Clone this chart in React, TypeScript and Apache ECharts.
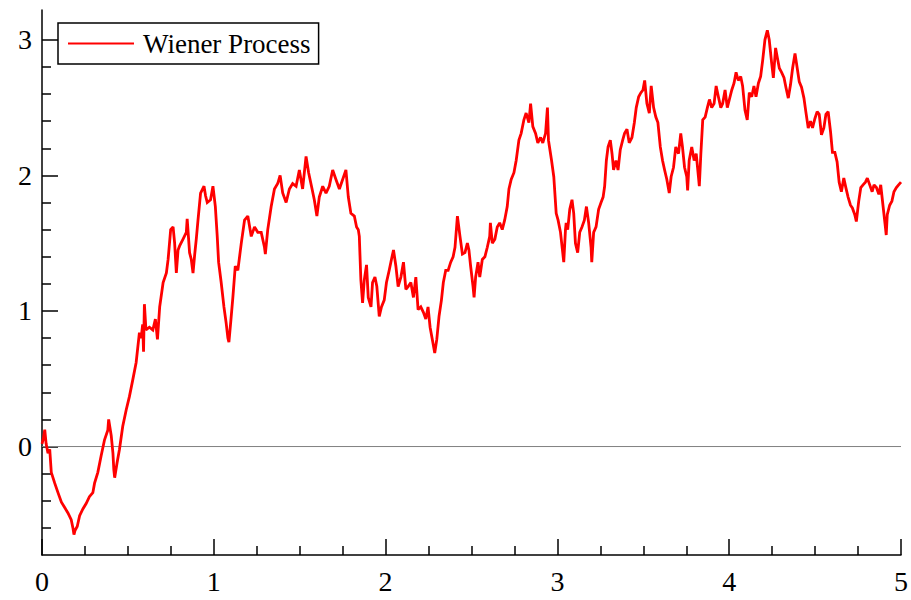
import React, { useEffect, useRef } from "react";
import * as echarts from "echarts";

const seriesName = "Wiener Process";

const tValues: number[] = [
  0.000, 0.008, 0.016, 0.024, 0.035, 0.045, 0.054, 0.074, 0.093, 0.113,
  0.132, 0.151, 0.170, 0.180, 0.186, 0.192, 0.205, 0.219, 0.238, 0.257,
  0.276, 0.296, 0.306, 0.325, 0.344, 0.364, 0.383, 0.388, 0.403, 0.413,
  0.418, 0.423, 0.437, 0.451, 0.470, 0.490, 0.509, 0.528, 0.548, 0.567,
  0.577, 0.586, 0.591, 0.596, 0.605, 0.625, 0.645, 0.660, 0.672, 0.685,
  0.705, 0.724, 0.734, 0.749, 0.763, 0.772, 0.782, 0.792, 0.801, 0.821,
  0.840, 0.845, 0.859, 0.869, 0.879, 0.889, 0.898, 0.908, 0.923, 0.943,
  0.952, 0.962, 0.981, 0.995, 1.009, 1.020, 1.028, 1.043, 1.059, 1.072,
  1.082, 1.088, 1.098, 1.111, 1.125, 1.140, 1.160, 1.179, 1.198, 1.218,
  1.237, 1.256, 1.276, 1.295, 1.300, 1.314, 1.334, 1.353, 1.372, 1.386,
  1.401, 1.421, 1.440, 1.459, 1.479, 1.498, 1.517, 1.537, 1.552, 1.572,
  1.585, 1.600, 1.614, 1.634, 1.653, 1.672, 1.692, 1.711, 1.731, 1.750,
  1.769, 1.783, 1.798, 1.818, 1.831, 1.841, 1.847, 1.856, 1.866, 1.876,
  1.889, 1.899, 1.915, 1.924, 1.938, 1.949, 1.963, 1.976, 1.992, 2.005,
  2.021, 2.034, 2.046, 2.060, 2.073, 2.089, 2.104, 2.118, 2.131, 2.147,
  2.162, 2.176, 2.189, 2.205, 2.220, 2.234, 2.247, 2.259, 2.272, 2.286,
  2.298, 2.311, 2.325, 2.336, 2.350, 2.364, 2.379, 2.393, 2.404, 2.418,
  2.433, 2.447, 2.462, 2.476, 2.485, 2.495, 2.509, 2.515, 2.524, 2.538,
  2.548, 2.563, 2.578, 2.592, 2.606, 2.610, 2.621, 2.636, 2.650, 2.664,
  2.679, 2.693, 2.708, 2.718, 2.731, 2.747, 2.760, 2.776, 2.789, 2.805,
  2.818, 2.834, 2.844, 2.857, 2.873, 2.886, 2.902, 2.915, 2.931, 2.942,
  2.948, 2.954, 2.966, 2.979, 2.993, 3.004, 3.018, 3.031, 3.037, 3.047,
  3.051, 3.060, 3.072, 3.085, 3.095, 3.105, 3.118, 3.130, 3.143, 3.157,
  3.169, 3.182, 3.196, 3.200, 3.211, 3.225, 3.240, 3.254, 3.266, 3.275,
  3.285, 3.295, 3.308, 3.318, 3.327, 3.341, 3.353, 3.366, 3.380, 3.391,
  3.405, 3.418, 3.434, 3.448, 3.459, 3.473, 3.486, 3.498, 3.508, 3.521,
  3.535, 3.546, 3.560, 3.573, 3.585, 3.599, 3.612, 3.624, 3.637, 3.651,
  3.662, 3.676, 3.689, 3.705, 3.718, 3.728, 3.740, 3.753, 3.758, 3.767,
  3.782, 3.796, 3.808, 3.821, 3.826, 3.835, 3.846, 3.860, 3.873, 3.885,
  3.898, 3.912, 3.924, 3.937, 3.951, 3.962, 3.976, 3.989, 4.001, 4.015,
  4.028, 4.040, 4.053, 4.067, 4.078, 4.092, 4.105, 4.117, 4.131, 4.144,
  4.156, 4.170, 4.183, 4.195, 4.208, 4.222, 4.233, 4.247, 4.257, 4.270,
  4.280, 4.292, 4.305, 4.319, 4.330, 4.344, 4.357, 4.369, 4.383, 4.396,
  4.408, 4.421, 4.435, 4.446, 4.460, 4.473, 4.485, 4.499, 4.512, 4.524,
  4.537, 4.551, 4.563, 4.576, 4.590, 4.601, 4.615, 4.628, 4.640, 4.653,
  4.667, 4.679, 4.692, 4.706, 4.717, 4.731, 4.740, 4.754, 4.766, 4.779,
  4.793, 4.804, 4.818, 4.832, 4.843, 4.857, 4.871, 4.882, 4.895, 4.909,
  4.914, 4.920, 4.934, 4.947, 4.959, 4.973, 4.986, 5.000,
];

const wValues: number[] = [
  0.02, 0.06, 0.125, 0.02, -0.05, -0.02, -0.19, -0.27, -0.34, -0.41,
  -0.45, -0.49, -0.54, -0.60, -0.65, -0.62, -0.59, -0.51, -0.46, -0.42,
  -0.37, -0.34, -0.27, -0.19, -0.07, 0.05, 0.12, 0.20, 0.08, -0.05,
  -0.17, -0.23, -0.12, -0.02, 0.15, 0.27, 0.37, 0.49, 0.62, 0.84,
  0.80, 0.90, 0.70, 1.05, 0.86, 0.88, 0.86, 0.94, 0.79, 1.03,
  1.21, 1.28, 1.38, 1.60, 1.62, 1.50, 1.28, 1.45, 1.48, 1.53,
  1.58, 1.68, 1.43, 1.38, 1.28, 1.42, 1.53, 1.67, 1.87, 1.92,
  1.85, 1.80, 1.82, 1.92, 1.77, 1.55, 1.36, 1.21, 1.03, 0.91,
  0.80, 0.77, 0.91, 1.10, 1.33, 1.30, 1.50, 1.67, 1.70, 1.55,
  1.62, 1.58, 1.58, 1.47, 1.42, 1.60, 1.77, 1.90, 1.94, 2.00,
  1.87, 1.80, 1.90, 1.94, 1.92, 2.04, 1.90, 2.14, 2.02, 1.90,
  1.82, 1.70, 1.84, 1.92, 1.87, 1.92, 2.04, 1.97, 1.90, 1.97,
  2.04, 1.84, 1.72, 1.70, 1.62, 1.60, 1.55, 1.23, 1.06, 1.23,
  1.34, 1.10, 1.03, 1.21, 1.25, 1.18, 0.96, 1.03, 1.08, 1.21,
  1.30, 1.38, 1.45, 1.33, 1.18, 1.25, 1.36, 1.16, 1.18, 1.21,
  1.10, 1.25, 1.01, 1.03, 0.99, 0.94, 1.03, 0.88, 0.79, 0.69,
  0.79, 0.96, 1.08, 1.21, 1.30, 1.30, 1.36, 1.40, 1.47, 1.70,
  1.55, 1.42, 1.43, 1.50, 1.45, 1.33, 1.18, 1.10, 1.25, 1.36,
  1.25, 1.38, 1.40, 1.47, 1.55, 1.65, 1.50, 1.53, 1.62, 1.65,
  1.60, 1.67, 1.77, 1.90, 1.97, 2.02, 2.11, 2.26, 2.31, 2.41,
  2.46, 2.39, 2.53, 2.36, 2.31, 2.24, 2.28, 2.24, 2.31, 2.50,
  2.26, 2.21, 2.11, 1.99, 1.72, 1.67, 1.58, 1.43, 1.36, 1.60,
  1.65, 1.60, 1.75, 1.82, 1.72, 1.50, 1.43, 1.58, 1.62, 1.67,
  1.77, 1.65, 1.47, 1.36, 1.58, 1.62, 1.75, 1.80, 1.84, 1.92,
  2.11, 2.21, 2.26, 2.16, 2.04, 2.11, 2.04, 2.19, 2.26, 2.31,
  2.34, 2.24, 2.28, 2.39, 2.50, 2.58, 2.61, 2.63, 2.70, 2.53,
  2.46, 2.66, 2.50, 2.43, 2.39, 2.21, 2.11, 2.04, 1.97, 1.87,
  1.99, 2.06, 2.21, 2.16, 2.31, 2.21, 2.06, 1.99, 1.89, 2.11,
  2.21, 2.11, 2.16, 1.99, 1.92, 2.16, 2.41, 2.43, 2.50, 2.56,
  2.50, 2.53, 2.66, 2.58, 2.50, 2.53, 2.63, 2.50, 2.56, 2.63,
  2.68, 2.76, 2.70, 2.73, 2.66, 2.48, 2.41, 2.61, 2.58, 2.66,
  2.58, 2.68, 2.73, 2.85, 3.00, 3.07, 3.00, 2.83, 2.72, 2.94,
  2.87, 2.79, 2.76, 2.72, 2.65, 2.57, 2.67, 2.79, 2.90, 2.79,
  2.69, 2.65, 2.57, 2.47, 2.35, 2.40, 2.35, 2.42, 2.47, 2.45,
  2.30, 2.35, 2.45, 2.47, 2.32, 2.17, 2.17, 2.10, 1.95, 1.88,
  1.98, 1.91, 1.84, 1.78, 1.76, 1.71, 1.66, 1.81, 1.91, 1.93,
  1.95, 1.98, 1.93, 1.88, 1.93, 1.91, 1.86, 1.93, 1.78, 1.62,
  1.56, 1.71, 1.78, 1.81, 1.88, 1.91, 1.93, 1.95,
];

const xMajorTicks = [0, 1, 2, 3, 4, 5];
const xMinorTicks = [0.25, 0.5, 0.75, 1.25, 1.5, 1.75, 2.25, 2.5, 2.75, 3.25, 3.5, 3.75, 4.25, 4.5, 4.75];
const yMajorTicks = [0, 1, 2, 3];
const yMinorTicks = [-0.6, -0.4, -0.2, 0.2, 0.4, 0.6, 0.8, 1.2, 1.4, 1.6, 1.8, 2.2, 2.4, 2.6, 2.8];

const X_MIN = 0;
const X_MAX = 5;
const Y_MIN = -0.8;
const Y_MAX = 3.22;

export default function App() {
  const ref = useRef<HTMLDivElement>(null);

  useEffect(() => {
    if (!ref.current) return;
    const chart = echarts.init(ref.current, undefined, { renderer: "svg" });
    const data = tValues.map((t, i) => [t, wValues[i]]);
    const font = "'Liberation Serif', 'Times New Roman', serif";
    const axisLineStyle = { color: "#000", width: 1.5 };

    chart.setOption({
      animation: false,
      backgroundColor: "#fff",
      grid: { left: 42, right: 8, top: 10, bottom: 45, containLabel: false },
      legend: {
        data: [seriesName],
        left: 58,
        top: 23,
        orient: "horizontal",
        icon: "rect",
        itemWidth: 66,
        itemHeight: 2,
        padding: [7, 8, 7, 10],
        borderColor: "#000",
        borderWidth: 1.5,
        borderRadius: 0,
        backgroundColor: "#fff",
        textStyle: { fontFamily: font, fontSize: 27, color: "#000", padding: [0, 0, 0, 4] },
      },
      xAxis: [
        {
          type: "value",
          min: X_MIN,
          max: X_MAX,
          axisLine: { show: true, onZero: false, lineStyle: axisLineStyle },
          axisTick: { show: true, inside: true, length: 16, customValues: xMajorTicks, lineStyle: axisLineStyle },
          axisLabel: { show: true, customValues: xMajorTicks, margin: 12, fontFamily: font, fontSize: 28, color: "#000" },
          splitLine: { show: false },
        },
        {
          type: "value",
          min: X_MIN,
          max: X_MAX,
          position: "bottom",
          axisLine: { show: false, onZero: false },
          axisTick: { show: true, inside: true, length: 9, customValues: xMinorTicks, lineStyle: axisLineStyle },
          axisLabel: { show: false },
          splitLine: { show: false },
        },
      ],
      yAxis: [
        {
          type: "value",
          min: Y_MIN,
          max: Y_MAX,
          axisLine: { show: true, onZero: false, lineStyle: axisLineStyle },
          axisTick: { show: true, inside: true, length: 16, customValues: yMajorTicks, lineStyle: axisLineStyle },
          axisLabel: { show: true, customValues: yMajorTicks, margin: 10, fontFamily: font, fontSize: 28, color: "#000" },
          splitLine: { show: false },
        },
        {
          type: "value",
          min: Y_MIN,
          max: Y_MAX,
          position: "left",
          axisLine: { show: false, onZero: false },
          axisTick: { show: true, inside: true, length: 9, customValues: yMinorTicks, lineStyle: axisLineStyle },
          axisLabel: { show: false },
          splitLine: { show: false },
        },
      ],
      series: [
        {
          name: "zero",
          type: "line",
          xAxisIndex: 0,
          yAxisIndex: 0,
          data: [[X_MIN, 0], [X_MAX, 0]],
          symbol: "none",
          silent: true,
          z: 1,
          lineStyle: { color: "#808080", width: 1 },
        },
        {
          name: seriesName,
          type: "line",
          xAxisIndex: 0,
          yAxisIndex: 0,
          data,
          symbol: "none",
          showSymbol: false,
          z: 3,
          lineStyle: { color: "#ff0000", width: 2.8, join: "miter", miterLimit: 2 },
          itemStyle: { color: "#ff0000" },
        },
      ],
    });

    return () => chart.dispose();
  }, []);

  return <div ref={ref} style={{ width: 911, height: 600, position: "absolute", left: 0, top: 0 }} />;
}
